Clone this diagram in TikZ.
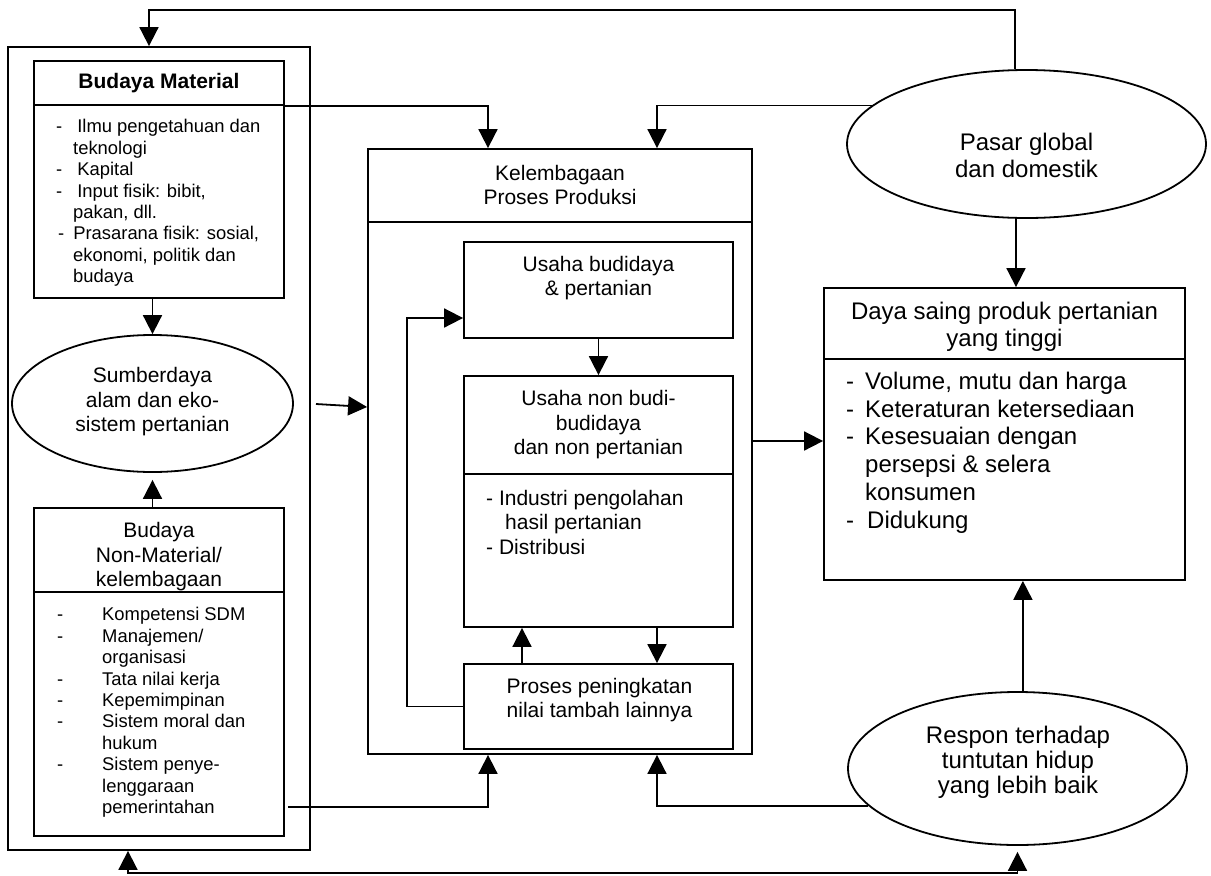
\documentclass[tikz,border=0pt]{standalone}
\usepackage{fontspec}
\setmainfont{Liberation Sans}
\usetikzlibrary{arrows.meta,shapes.geometric,calc}
\begin{document}
\begin{tikzpicture}[x=1pt,y=-1pt,
 box/.style={draw, rectangle, inner sep=0pt, line width=1.8pt},
 oval/.style={draw, ellipse, inner sep=0pt, line width=1.8pt},
 txt/.style={inner sep=0pt, align=center},
 big/.style={font=\fontsize{24}{27}\selectfont},
 mid/.style={font=\fontsize{21}{24.5}\selectfont},
 small/.style={font=\fontsize{18.4}{21.4}\selectfont},
 arr/.style={-{Triangle[length=19pt,width=19pt]}, line width=1.8pt},
 darr/.style={{Triangle[length=19pt,width=19pt]}-{Triangle[length=19pt,width=19pt]}, line width=1.8pt},
]
\useasboundingbox (0,0) rectangle (1211,876);

% left group
\node[box, minimum width=302pt, minimum height=803pt] (outerL) at (159,448.5) {};
\node[box, minimum width=250pt, minimum height=44pt] (bmH) at (159,83) {};
\node[box, minimum width=250pt, minimum height=193pt] (bmB) at (159,201.5) {};
\node[oval, minimum width=281pt, minimum height=137pt] (sumber) at (152.5,403.5) {};
\node[box, minimum width=250pt, minimum height=84pt] (nmH) at (159,550) {};
\node[box, minimum width=250pt, minimum height=244pt] (nmB) at (159,714) {};

% middle group
\node[box, minimum width=384pt, minimum height=73pt] (kpH) at (560,185.5) {};
\node[box, minimum width=384pt, minimum height=532pt] (kpB) at (560,488) {};
\node[box, minimum width=269pt, minimum height=96pt] (ub) at (598.5,290) {};
\node[box, minimum width=269pt, minimum height=98pt] (unH) at (598.5,425) {};
\node[box, minimum width=269pt, minimum height=153pt] (unB) at (598.5,550.5) {};
\node[box, minimum width=269pt, minimum height=85pt] (pp) at (598.5,706.5) {};

% right group
\node[oval, minimum width=359pt, minimum height=148pt] (pasar) at (1026.5,144) {};
\node[box, minimum width=361pt, minimum height=71pt] (dsH) at (1004.5,323.5) {};
\node[box, minimum width=361pt, minimum height=221pt] (dsB) at (1004.5,469.5) {};
\node[oval, minimum width=339pt, minimum height=153pt] (respon) at (1017.5,768.5) {};

% texts
\node[txt, font=\bfseries\fontsize{21}{24}\selectfont] (tbm) at (159,83) {Budaya Material};
\node[txt, small, align=left, anchor=west] (tbml) at (56,203) {%
-\hspace{15pt}Ilmu pengetahuan dan\\
\hspace*{17pt}teknologi\\
-\hspace{15pt}Kapital\\
-\hspace{15pt}Input fisik: bibit,\\
\hspace*{17pt}pakan, dll.\\
\hspace*{2pt}-\hspace{9pt}Prasarana fisik: sosial,\\
\hspace*{17pt}ekonomi, politik dan\\
\hspace*{17pt}budaya};
\node[txt, mid] (tsum) at (152.5,402) {Sumberdaya\\alam dan eko-\\sistem pertanian};
\node[txt, mid] (tnm) at (159,557) {Budaya\\Non-Material/\\kelembagaan};
\node[txt, small, align=left, anchor=west] (tnml) at (57,712.5) {%
-\hspace{38.9pt}Kompetensi SDM\\
-\hspace{38.9pt}Manajemen/\\
\hspace*{45pt}organisasi\\
-\hspace{38.9pt}Tata nilai kerja\\
-\hspace{38.9pt}Kepemimpinan\\
-\hspace{38.9pt}Sistem moral dan\\
\hspace*{45pt}hukum\\
-\hspace{38.9pt}Sistem penye-\\
\hspace*{45pt}lenggaraan\\
\hspace*{45pt}pemerintahan};

\node[txt, mid] (tkp) at (560,185) {Kelembagaan\\Proses Produksi};
\node[txt, mid] (tub) at (598.5,278) {Usaha budidaya\\\& pertanian};
\node[txt, mid] (tun) at (598.5,425) {Usaha non budi-\\budidaya\\dan non pertanian};
\node[txt, mid, align=left, anchor=west] (tunl) at (486,522) {%
- Industri pengolahan\\
\hspace*{19pt}hasil pertanian\\
- Distribusi};
\node[txt, mid] (tpp) at (599.5,700) {Proses peningkatan\\nilai tambah lainnya};

\node[txt, big] (tpasar) at (1026.5,155) {Pasar global\\dan domestik};
\node[txt, big] (tds) at (1004.5,326.5) {Daya saing produk pertanian\\yang tinggi};
\node[txt, big, align=left, anchor=west, font=\fontsize{24}{27.8}\selectfont] (tdsl) at (846,452.5) {%
-\hspace{11pt}Volume, mutu dan harga\\
-\hspace{11pt}Keteraturan ketersediaan\\
-\hspace{11pt}Kesesuaian dengan\\
\hspace*{19pt}persepsi \& selera\\
\hspace*{19pt}konsumen\\
-\hspace{13pt}Didukung};
\node[txt, font=\fontsize{24}{25}\selectfont] (tresp) at (1018,762) {Respon terhadap\\tuntutan hidup\\yang lebih baik};

% helper coordinates
\coordinate (tl) at (149,10);
\coordinate (xa) at (522,0);
\coordinate (xb) at (657,0);
\coordinate (xc) at (488,0);
\coordinate (xd) at (128,0);
\coordinate (xe) at (407,0);
\coordinate (y318) at (0,318);
\coordinate (y407) at (0,407);
\coordinate (y441) at (0,441);
\coordinate (y873) at (0,873);
\coordinate (s1) at (316,404);
\coordinate (nmout) at (288,807);

% connectors
\draw[arr] (pasar.99) |- (tl) -- (tl |- outerL.north);
\draw[arr] (bmH.south east) -| (kpH.north -| xc);
\draw[arr] (pasar.166) -| (kpH.north -| xb);
\draw[arr] (pasar.262) -- (pasar.262 |- dsH.north);
\draw[arr] (sumber.north |- bmB.south) -- (sumber.north);
\draw[arr, shorten >=7pt] (sumber.south |- nmH.north) -- (sumber.south);
\draw[arr] (s1) -- (kpB.west |- y407);
\draw[arr] (kpB.east |- y441) -- (dsB.west |- y441);
\draw[arr] (ub.south) -- (unH.north);
\draw[arr] (pp.north -| xa) -- (unB.south -| xa);
\draw[arr] (unB.south -| xb) -- (pp.north -| xb);
\draw[arr] (pp.west) -| (xe |- y318) -- (ub.west |- y318);
\draw[arr] (nmout) -| (kpB.south -| xc);
\draw[arr] (respon.194) -| (kpB.south -| xb);
\draw[arr] (respon.86) -- (respon.86 |- dsB.south);
\draw[darr, shorten >=6pt] (xd |- outerL.south) -- (xd |- y873) -| (respon.south);
\end{tikzpicture}
\end{document}
